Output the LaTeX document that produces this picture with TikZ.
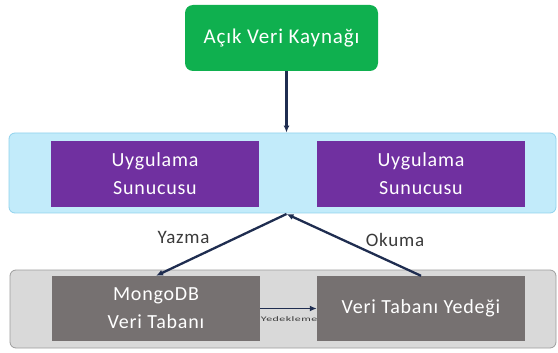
\documentclass[tikz,border=0pt]{standalone}
\usepackage{fontspec}
\setmainfont{Carlito}[LetterSpace=4]
\usepackage{tikz}
\usetikzlibrary{arrows.meta, calc}
\definecolor{srcgreen}{HTML}{0FB04F}
\definecolor{apppurple}{HTML}{7030A0}
\definecolor{panelblue}{HTML}{C2EBFA}
\definecolor{panelblueline}{HTML}{90D2EC}
\definecolor{panelgray}{HTML}{D9D9D9}
\definecolor{panelgrayline}{HTML}{9C9C9C}
\definecolor{dbgray}{HTML}{767171}
\definecolor{arrownavy}{HTML}{1F2D50}
\definecolor{labelgray}{HTML}{3A3A3A}

\begin{document}
\begin{tikzpicture}[x=1pt, y=-1pt,
	box/.style={draw=none, text=white, align=center, font=\fontsize{20}{28}\selectfont},
	panel/.style={rounded corners=6pt, thick},
	flow/.style={-{Latex[length=7pt,width=6pt]}, arrownavy, line width=2.3pt},
	flowlabel/.style={text=labelgray, font=\fontsize{19}{22}\selectfont}]

	\useasboundingbox (0,0) rectangle (558,353);

	% panels
	\node[panel, fill=panelblue, draw=panelblueline, minimum width=547pt, minimum height=80pt] (apppanel) at (282.5,173) {};
	\node[panel, fill=panelgray, draw=panelgrayline, minimum width=546pt, minimum height=78pt] (dbpanel) at (283,309) {};

	% boxes
	\node[box, fill=srcgreen, rounded corners=8pt, minimum width=193pt, minimum height=66pt, font=\fontsize{21}{25}\selectfont] (src) at (281.5,38) {Açık Veri Kaynağı};
	\node[box, fill=apppurple, minimum width=208pt, minimum height=66pt] (app1) at (155,174) {Uygulama\\Sunucusu};
	\node[box, fill=apppurple, minimum width=208pt, minimum height=66pt] (app2) at (421,174) {Uygulama\\Sunucusu};
	\node[box, fill=dbgray, minimum width=208pt, minimum height=65pt] (mongo) at (156,308.5) {MongoDB\\Veri Tabanı};
	\node[box, fill=dbgray, minimum width=208pt, minimum height=65pt] (backup) at (421,308.5) {Veri Tabanı Yedeği};

	\coordinate (hub) at (286.5,214);

	% connectors
	\draw[flow] (src.south -| hub) -- (apppanel.north -| hub);
	\draw[flow] (hub) -- (mongo.north);
	\draw[flow] (backup.north) -- (hub);
	\draw[flow, line width=1.8pt] (mongo.east) -- (backup.west);

	% labels
	\node[flowlabel] (yazma) at (183.5,237) {Yazma};
	\node[flowlabel] (okuma) at (395,240) {Okuma};
	\node[text=labelgray, inner sep=0pt, font=\fontsize{7}{8}\selectfont] (yedek) at (289,319) {\scalebox{1.7}[1]{Yedekleme}};

\end{tikzpicture}
\end{document}
